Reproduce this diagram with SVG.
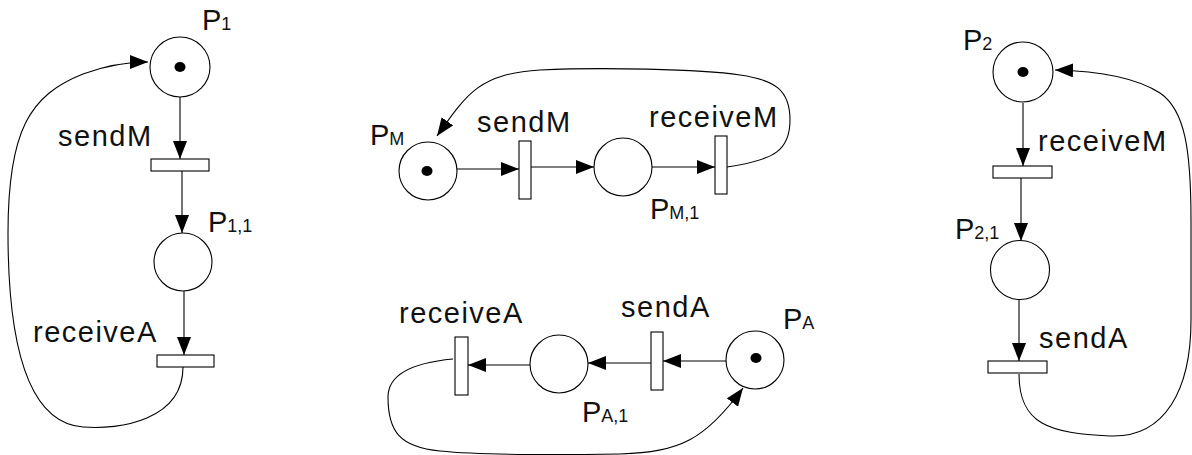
<svg xmlns="http://www.w3.org/2000/svg" width="1192" height="455" viewBox="0 0 1192 455">
<style>
.place{fill:#fff;stroke:#000;stroke-width:1.1}
.trans{fill:#fff;stroke:#000;stroke-width:1.1}
.tok{fill:#000}
.arc{fill:none;stroke:#000;stroke-width:1.1}
.lbl{font-family:"Liberation Sans",Arial,sans-serif;font-size:29px;letter-spacing:1.5px;fill:#111}
.pl{font-family:"Liberation Sans",Arial,sans-serif;font-size:29px;fill:#111}
.sub{font-size:18px}
</style>
<defs>
<marker id="ah" viewBox="0 0 18 14" refX="18" refY="7" markerWidth="18" markerHeight="14" markerUnits="userSpaceOnUse" orient="auto">
<path d="M0,0 L18,7 L0,14 z" fill="#000"/>
</marker>
</defs>
<g id="connectors">
<!-- left column -->
<line class="arc" x1="180" y1="97" x2="180" y2="159" marker-end="url(#ah)"/>
<line class="arc" x1="182" y1="171" x2="182" y2="233" marker-end="url(#ah)"/>
<line class="arc" x1="184" y1="291" x2="184" y2="355" marker-end="url(#ah)"/>
<path class="arc" d="M183,367 C183,420 120,430 83,427 C30,423 8,350 8,233 C8,130 30,95 83,74 C110,64 130,62 148,62" marker-end="url(#ah)"/>
<!-- middle top -->
<line class="arc" x1="457" y1="169" x2="519" y2="169" marker-end="url(#ah)"/>
<line class="arc" x1="531" y1="167" x2="594" y2="167" marker-end="url(#ah)"/>
<line class="arc" x1="652" y1="167" x2="715" y2="167" marker-end="url(#ah)"/>
<path class="arc" d="M727,167 C775,160 790,150 790,120 C790,90 775,80 740,75 C700,69 600,67 540,70 C480,74 468,92 437,136" marker-end="url(#ah)"/>
<!-- middle bottom -->
<line class="arc" x1="727" y1="361" x2="663" y2="361" marker-end="url(#ah)"/>
<line class="arc" x1="651" y1="363" x2="588" y2="363" marker-end="url(#ah)"/>
<line class="arc" x1="530" y1="365" x2="468" y2="365" marker-end="url(#ah)"/>
<path class="arc" d="M453,359 C410,363 388,375 388,397 C388,432 400,447 440,451 C480,455 560,455 620,454 C680,452 705,440 743,388" marker-end="url(#ah)"/>
<!-- right column -->
<line class="arc" x1="1023" y1="103" x2="1023" y2="166" marker-end="url(#ah)"/>
<line class="arc" x1="1021" y1="178" x2="1021" y2="241" marker-end="url(#ah)"/>
<line class="arc" x1="1019" y1="299" x2="1019" y2="361" marker-end="url(#ah)"/>
<path class="arc" d="M1019,374 C1019,425 1050,433 1110,436 C1165,438 1191,390 1191,320 L1191,220 C1191,150 1185,110 1160,93 C1135,77 1100,71 1055,70" marker-end="url(#ah)"/>
</g>
<!-- left column nodes -->
<g id="P1">
<circle class="place" cx="180" cy="67" r="30"/>
<ellipse class="tok" cx="180" cy="67" rx="5.5" ry="5"/>
<text class="pl" x="202" y="30">P<tspan class="sub">1</tspan></text>
</g>
<g id="sendM1">
<rect class="trans" x="151" y="159" width="58" height="12"/>
<text class="lbl" x="58" y="146">sendM</text>
</g>
<g id="P11">
<circle class="place" cx="183" cy="262" r="29"/>
<text class="pl" x="208" y="232">P<tspan class="sub">1,1</tspan></text>
</g>
<g id="receiveA1">
<rect class="trans" x="157" y="355" width="57" height="12"/>
<text class="lbl" x="33" y="342">receiveA</text>
</g>
<!-- middle top nodes -->
<g id="PM">
<circle class="place" cx="428" cy="171" r="29"/>
<ellipse class="tok" cx="427" cy="171" rx="5.5" ry="5"/>
<text class="pl" x="370" y="145">P<tspan class="sub">M</tspan></text>
</g>
<g id="sendM2">
<rect class="trans" x="519" y="141" width="12" height="58"/>
<text class="lbl" x="477" y="132">sendM</text>
</g>
<g id="PM1">
<circle class="place" cx="623" cy="167" r="29"/>
<text class="pl" x="650" y="219">P<tspan class="sub">M,1</tspan></text>
</g>
<g id="receiveM2">
<rect class="trans" x="715" y="136" width="12" height="58"/>
<text class="lbl" x="649" y="127">receiveM</text>
</g>
<!-- middle bottom nodes -->
<g id="receiveA2">
<rect class="trans" x="455" y="337" width="13" height="58"/>
<text class="lbl" x="399" y="323">receiveA</text>
</g>
<g id="PA1">
<circle class="place" cx="559" cy="364" r="29"/>
<text class="pl" x="582" y="422">P<tspan class="sub">A,1</tspan></text>
</g>
<g id="sendA2">
<rect class="trans" x="651" y="332" width="12" height="58"/>
<text class="lbl" x="621" y="317">sendA</text>
</g>
<g id="PA">
<circle class="place" cx="755" cy="360" r="29"/>
<ellipse class="tok" cx="756" cy="358" rx="5.5" ry="5"/>
<text class="pl" x="783" y="329">P<tspan class="sub">A</tspan></text>
</g>
<!-- right column nodes -->
<g id="P2">
<circle class="place" cx="1023" cy="72" r="30"/>
<ellipse class="tok" cx="1023" cy="72" rx="5.5" ry="5"/>
<text class="pl" x="963" y="50">P<tspan class="sub">2</tspan></text>
</g>
<g id="receiveM3">
<rect class="trans" x="993" y="166" width="59" height="12"/>
<text class="lbl" x="1038" y="151">receiveM</text>
</g>
<g id="P21">
<circle class="place" cx="1020" cy="270" r="29.5"/>
<text class="pl" x="955" y="239">P<tspan class="sub">2,1</tspan></text>
</g>
<g id="sendA3">
<rect class="trans" x="988" y="361" width="59" height="12"/>
<text class="lbl" x="1039" y="348">sendA</text>
</g>
</svg>
